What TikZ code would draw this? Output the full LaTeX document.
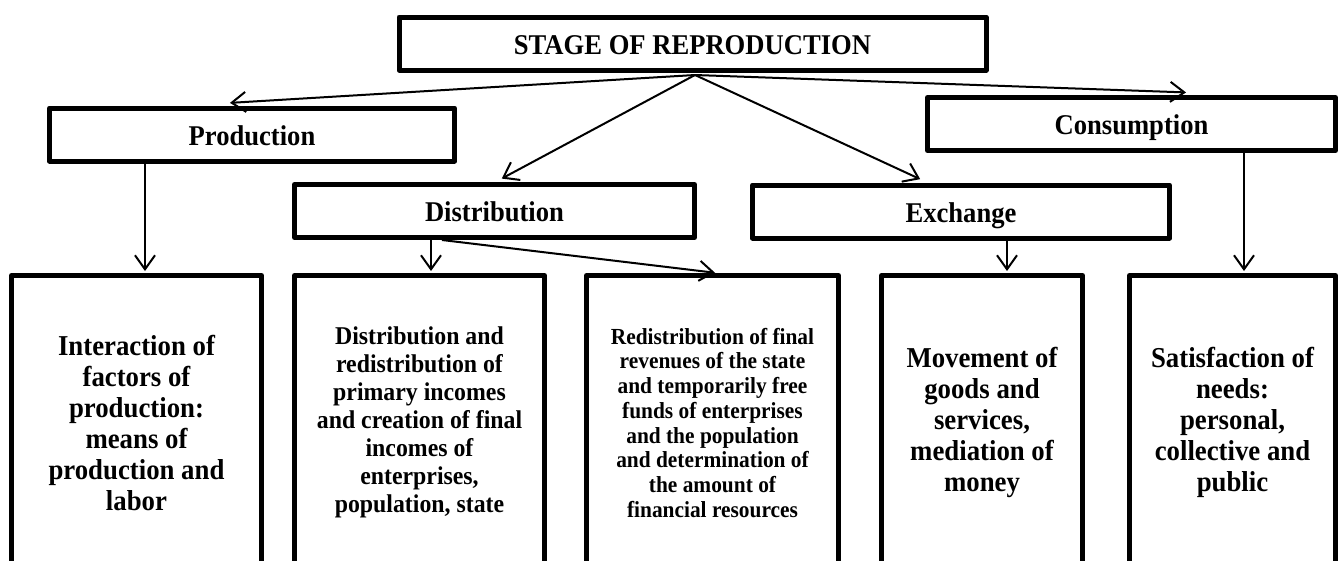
\documentclass[tikz,border=0pt]{standalone}
\usepackage{fontspec}
\setmainfont[FakeStretch=0.93]{Liberation Serif}
\usetikzlibrary{arrows.meta}
\begin{document}
\begin{tikzpicture}[x=1pt,y=-1pt,
  box/.style={draw,line width=5pt,line join=round,inner sep=0pt,align=center,
    font=\bfseries\fontsize{28.6}{31}\selectfont},
  head/.style={box,minimum height=53pt,text height=27pt,text depth=6pt},
  big/.style={font=\bfseries\fontsize{28.8}{31}\selectfont},
  mid/.style={font=\bfseries\fontsize{25.6}{28}\selectfont},
  small/.style={font=\bfseries\fontsize{23}{24.7}\selectfont},
  con/.style={line width=2pt,shorten >=2pt,
    -{Straight Barb[length=14pt,width=20pt,line width=2pt]}},
]
\clip (0,0) rectangle (1342,560);
\useasboundingbox (0,0) rectangle (1342,560);

\node[head,minimum width=587pt] (stage) at (692.5,43.5) {STAGE OF REPRODUCTION};
\node[head,minimum width=405pt] (prod) at (252,134.5) {Production};
\node[head,minimum width=408pt] (cons) at (1131.5,124) {Consumption};
\node[head,minimum width=400pt] (dist) at (494.5,211) {Distribution};
\node[head,minimum width=417pt] (exch) at (961,211.5) {Exchange};

\node[box,big,minimum width=250pt,minimum height=294.5pt] (b1) at (136.5,422.75)
  {Interaction of\\factors of\\production:\\means of\\production and\\labor};
\node[box,mid,minimum width=250pt,minimum height=294.5pt] (b2) at (419.5,422.75)
  {Distribution and\\redistribution of\\primary incomes\\and creation of final\\incomes of\\enterprises,\\population, state};
\node[box,small,minimum width=252pt,minimum height=294.5pt] (b3) at (712.5,422.75)
  {Redistribution of final\\revenues of the state\\and temporarily free\\funds of enterprises\\and the population\\and determination of\\the amount of\\financial resources};
\node[box,big,minimum width=201pt,minimum height=294.5pt] (b4) at (982,422.75)
  {Movement of\\goods and\\services,\\mediation of\\money};
\node[box,big,minimum width=206pt,minimum height=294.5pt] (b5) at (1232.5,422.75)
  {Satisfaction of\\needs:\\personal,\\collective and\\public};

\coordinate (apex) at ([xshift=2.5pt,yshift=-2.5pt]stage.south);
\draw[con] (apex) -- ([xshift=-24pt,yshift=2.5pt]prod.north);
\draw[con] (apex) -- ([xshift=5.5pt,yshift=2.5pt]dist.north);
\draw[con] (apex) -- ([xshift=-39pt,yshift=2.5pt]exch.north);
\draw[con] (apex) -- ([xshift=56.5pt,yshift=2.5pt]cons.north);

\coordinate (p1) at ([xshift=-107pt]prod.south);
\draw[con] (p1) -- (p1 |- b1.north);
\coordinate (d1) at ([xshift=-63.5pt]dist.south);
\draw[con] (d1) -- (d1 |- b2.north);
\coordinate (d2) at ([xshift=-52.5pt]dist.south);
\draw[con] (d2) -- ([xshift=4.5pt]b3.north);
\coordinate (e1) at ([xshift=46pt]exch.south);
\draw[con] (e1) -- (e1 |- b4.north);
\coordinate (c1) at ([xshift=112.5pt]cons.south);
\draw[con] (c1) -- (c1 |- b5.north);
\end{tikzpicture}
\end{document}
